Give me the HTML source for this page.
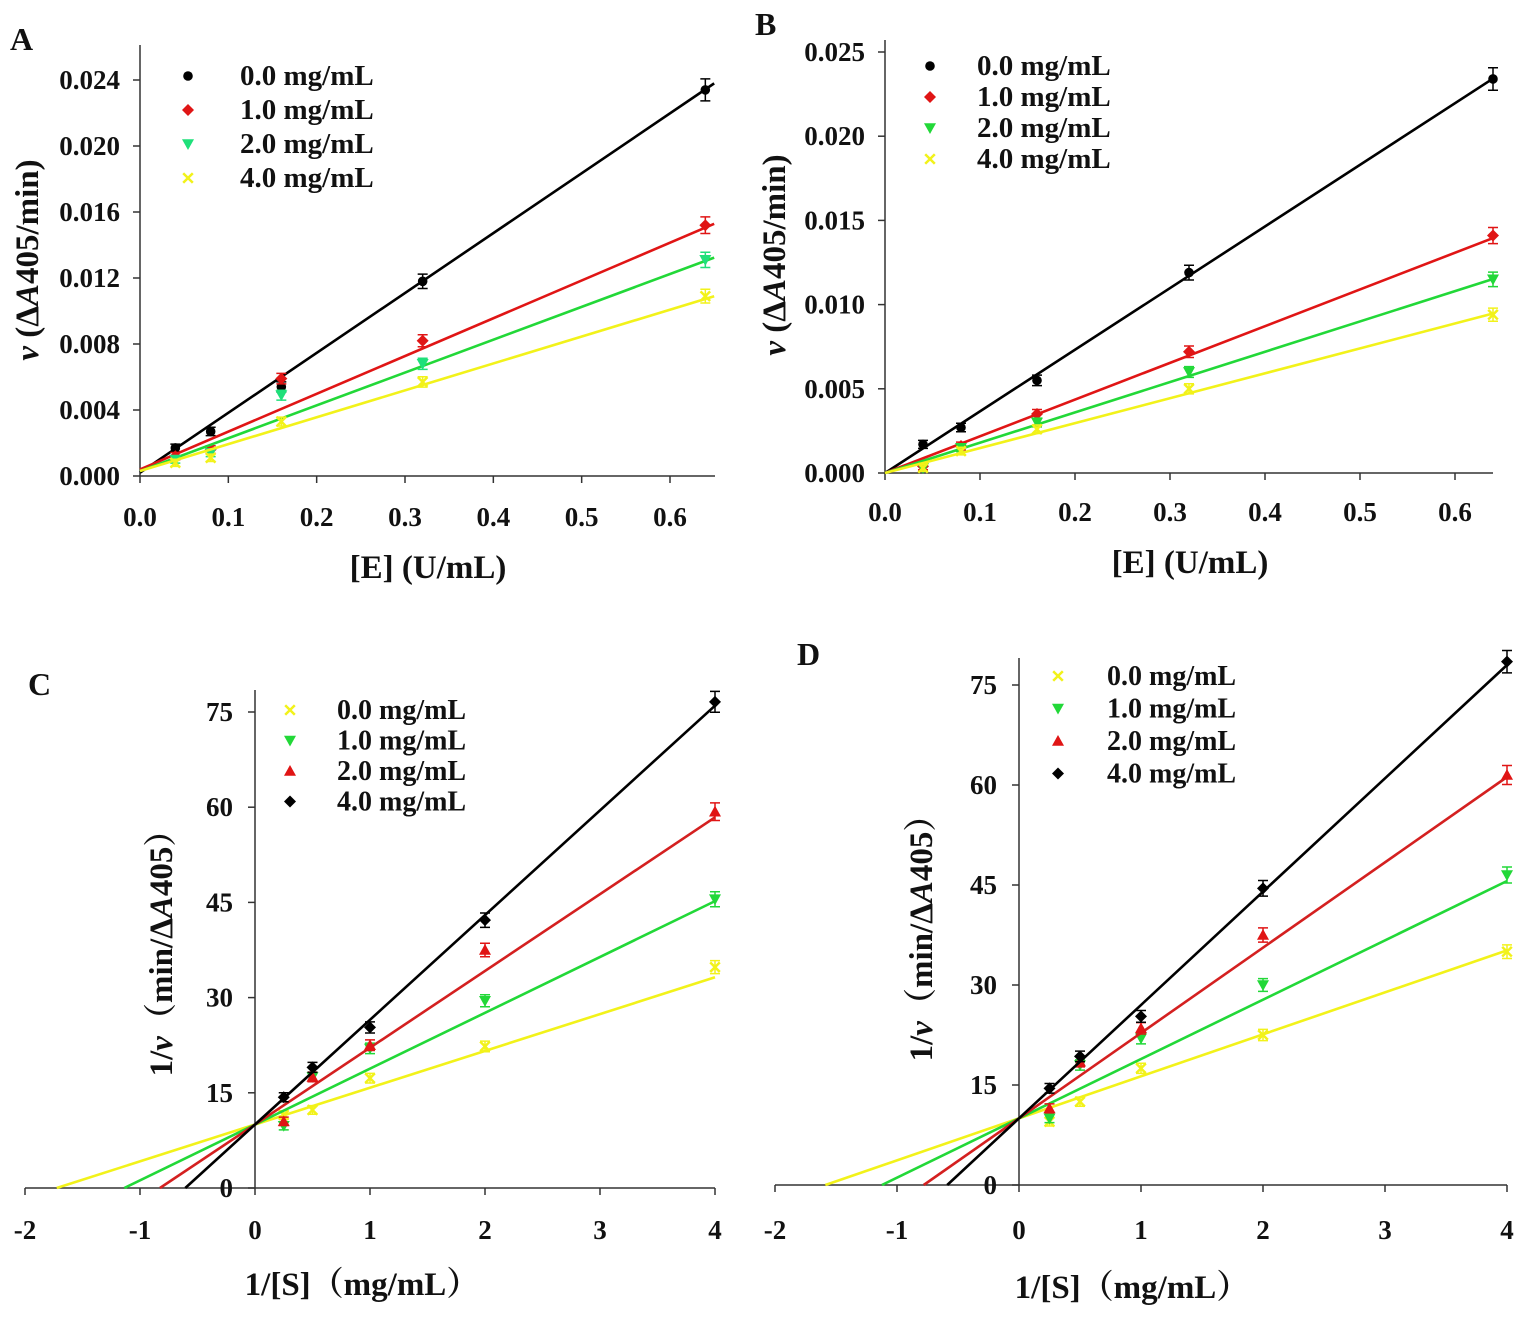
<!DOCTYPE html>
<html><head><meta charset="utf-8">
<style>
body{margin:0;background:#fff;}
svg text{font-family:"Liberation Serif","Noto Serif CJK SC",serif;font-weight:bold;fill:#111;}
</style></head>
<body>
<svg id="fig" width="1535" height="1320" viewBox="0 0 1535 1320" xmlns="http://www.w3.org/2000/svg"></svg>
<script>
// ---------- data ----------
const xA = [0.04,0.08,0.16,0.32,0.64];
const A_black = [0.0017,0.0027,0.0054,0.0118,0.0234];
const A_red = [0.0012,0.0016,0.0059,0.0082,0.0152];
const A_green = [0.0010,0.0014,0.0049,0.0068,0.0131];
const A_yellow = [0.0008,0.0011,0.0033,0.0057,0.0109];
const A_slopes = [0.0363,0.0229,0.0199,0.0163];
const A_inter = [0.0002,0.0004,0.0003,0.0003];
const xB = [0.04,0.08,0.16,0.32,0.64];
const B_black = [0.0017,0.0027,0.0055,0.0119,0.0234];
const B_red = [0.0004,0.0016,0.0035,0.0072,0.0141];
const B_green = [0.0003,0.0015,0.0030,0.0060,0.0115];
const B_yellow = [0.0003,0.0013,0.0026,0.0050,0.0094];
const B_slopes = [0.0366,0.0218,0.0180,0.0148];
const B_inter = [0,0,0,0];
const xC = [0.25,0.5,1,2,4];
const C_yellow = [11.5,12.3,17.3,22.3,34.8];
const C_green = [9.8,17.5,22,29.5,45.5];
const C_red = [10.5,17.5,22.5,37.5,59.3];
const C_black = [14.3,19,25.3,42.2,76.6];
const C_slopes = [5.8,8.8,12.1,16.5];
const C_inter = [10,10,10,10];
const D_yellow = [9.5,12.5,17.5,22.5,35];
const D_green = [10,18,22,30,46.5];
const D_red = [11.5,18.5,23.5,37.5,61.5];
const D_black = [14.5,19.3,25.3,44.5,78.5];
const D_slopes = [6.3,8.9,12.8,17];
const D_inter = [10,10,10,10];
const legendLabels = ["0.0 mg/mL","1.0 mg/mL","2.0 mg/mL","4.0 mg/mL"];
const A_xticks = [0,0.1,0.2,0.3,0.4,0.5,0.6];
const A_yticks = [0,0.004,0.008,0.012,0.016,0.020,0.024];
const B_xticks = [0,0.1,0.2,0.3,0.4,0.5,0.6];
const B_yticks = [0,0.005,0.010,0.015,0.020,0.025];
const CD_xticks = [-2,-1,0,1,2,3,4];
const CD_yticks = [0,15,30,45,60,75];

const NS="http://www.w3.org/2000/svg";
const svg=document.getElementById('fig');
function mk(tag,attrs,parent){const e=document.createElementNS(NS,tag);for(const k in attrs)e.setAttribute(k,attrs[k]);(parent||svg).appendChild(e);return e;}
const COL={black:"#000",red:"#e01515",green:"#22d838",yellow:"#f2f21a"};
const GREENA="#1fe07a";

function marker(g,type,cx,cy,color,s){
  let e;
  if(type==="circle")e=mk('circle',{cx,cy,r:s*0.8,fill:color},g);
  else if(type==="diamond")e=mk('polygon',{points:`${cx},${cy-s} ${cx+s},${cy} ${cx},${cy+s} ${cx-s},${cy}`,fill:color},g);
  else if(type==="tdown")e=mk('polygon',{points:`${cx-s},${cy-s*0.8} ${cx+s},${cy-s*0.8} ${cx},${cy+s}`,fill:color},g);
  else if(type==="tup")e=mk('polygon',{points:`${cx-s},${cy+s*0.8} ${cx+s},${cy+s*0.8} ${cx},${cy-s}`,fill:color},g);
  else {e=mk('path',{d:`M${cx-s*0.8},${cy-s*0.8}L${cx+s*0.8},${cy+s*0.8}M${cx+s*0.8},${cy-s*0.8}L${cx-s*0.8},${cy+s*0.8}`,stroke:color,'stroke-width':2.5},g);}
  return e;
}

function panel(p){
  const g=mk('g',{});
  
  
  const X=v=>p.x0+(v-p.xv0)*(p.x1-p.x0)/(p.xv1-p.xv0);
  const Y=v=>p.y0-(v-p.yv0)*(p.y0-p.y1)/(p.yv1-p.yv0);
  const ax=mk('line',{x1:X(0),y1:p.yTop,x2:X(0),y2:Y(0),stroke:"#333",'stroke-width':1.5},g);
  
  const axx=mk('line',{x1:p.xL,y1:Y(0),x2:p.xR,y2:Y(0),stroke:"#333",'stroke-width':1.5},g);
  
  p.yticks.forEach(t=>{
    mk('line',{x1:X(0)-7,y1:Y(t),x2:X(0),y2:Y(t),stroke:"#333",'stroke-width':1.5},g);
    const tx=mk('text',{x:X(0)-p.ylabOff,y:Y(t)+9,'text-anchor':'end','font-size':p.fs},g);
    tx.textContent=p.yfmt(t);
    
  });
  p.xticks.forEach(t=>{
    mk('line',{x1:X(t),y1:Y(0),x2:X(t),y2:Y(0)+7,stroke:"#333",'stroke-width':1.5},g);
    const tx=mk('text',{x:X(t),y:p.xlabY,'text-anchor':'middle','font-size':p.fs},g);
    tx.textContent=p.xfmt(t);
    
  });
  p.series.forEach((s,i)=>{
    const sg=mk('g',{},g);
    
    
    const xs=p.lineX0(i), xe=p.lineX1;
    const ln=mk('line',{x1:X(xs),y1:Y(p.inter[i]+p.slopes[i]*xs),x2:X(xe),y2:Y(p.inter[i]+p.slopes[i]*xe),stroke:s.lcolor,'stroke-width':2.6},sg);
    
    p.xs.forEach((xv,j)=>{
      const v=s.data[j], e=p.err(v), cx=X(xv);
      mk('path',{d:`M${cx},${Y(v-e)}L${cx},${Y(v+e)}M${cx-5},${Y(v+e)}L${cx+5},${Y(v+e)}M${cx-5},${Y(v-e)}L${cx+5},${Y(v-e)}`,stroke:s.color,'stroke-width':1.5,fill:'none'},sg);
      const m=marker(sg,s.marker,cx,Y(v),s.color,6);
      
    });
  });
  const lg=mk('g',{},g);
  
  p.series.forEach((s,i)=>{
    const y=p.legY+i*p.legDy;
    marker(lg,s.marker,p.legMX,y-9,s.legcolor||s.color,6);
    const t=mk('text',{x:p.legTX,y:y,'font-size':p.lfs},lg);
    t.textContent=s.label;
    
  });
  const L=mk('text',{x:p.letter[0],y:p.letter[1],'font-size':32},g);L.textContent=p.letterT;
  
  const xt=mk('text',{x:p.xt[0],y:p.xt[1],'text-anchor':'middle','font-size':33},g);
  xt.innerHTML=p.xtitle;
  const yt=mk('text',{x:0,y:0,'text-anchor':'middle','font-size':33,transform:`translate(${p.yt[0]},${p.yt[1]}) rotate(-90)`},g);
  yt.innerHTML=p.ytitle;
}
const f3=t=>t.toFixed(3), f1=t=>t.toFixed(1), f0=t=>String(t);
const vTitle='<tspan font-style="italic">v</tspan> (Δ<tspan font-style="italic">A</tspan>405/min)';
panel({name:'panel-a',x0:140,x1:670,xv0:0,xv1:0.6,y0:476,y1:80,yv0:0,yv1:0.024,yTop:45,xL:140,xR:715,
  yticks:A_yticks,xticks:A_xticks,yfmt:f3,xfmt:f1,ylabOff:20,xlabY:526,fs:27,lfs:29,xs:xA,
  slopes:A_slopes,inter:A_inter,lineX0:()=>0,lineX1:0.65,err:v=>0.0002+v*0.02,
  series:[{key:'black',label:legendLabels[0],data:A_black,color:COL.black,lcolor:COL.black,marker:'circle'},
  {key:'red',label:legendLabels[1],data:A_red,color:COL.red,lcolor:COL.red,marker:'diamond'},
  {key:'green',label:legendLabels[2],data:A_green,color:GREENA,lcolor:COL.green,marker:'tdown'},
  {key:'yellow',label:legendLabels[3],data:A_yellow,color:COL.yellow,lcolor:COL.yellow,marker:'cross'}],
  legY:85,legDy:34,legMX:188,legTX:240,letter:[10,50],letterT:'A',xt:[428,578],xtitle:'[E] (U/mL)',yt:[38,260],ytitle:vTitle});
panel({name:'panel-b',x0:885,x1:1455,xv0:0,xv1:0.6,y0:473,y1:52,yv0:0,yv1:0.025,yTop:40,xL:885,xR:1493,
  yticks:B_yticks,xticks:B_xticks,yfmt:f3,xfmt:f1,ylabOff:20,xlabY:521,fs:27,lfs:29,xs:xB,
  slopes:B_slopes,inter:B_inter,lineX0:()=>0,lineX1:0.64,err:v=>0.0002+v*0.02,
  series:[{key:'black',label:legendLabels[0],data:B_black,color:COL.black,lcolor:COL.black,marker:'circle'},
  {key:'red',label:legendLabels[1],data:B_red,color:COL.red,lcolor:COL.red,marker:'diamond'},
  {key:'green',label:legendLabels[2],data:B_green,color:COL.green,lcolor:COL.green,marker:'tdown'},
  {key:'yellow',label:legendLabels[3],data:B_yellow,color:COL.yellow,lcolor:COL.yellow,marker:'cross'}],
  legY:75,legDy:31,legMX:930,legTX:977,letter:[755,35],letterT:'B',xt:[1190,573],xtitle:'[E] (U/mL)',yt:[785,255],ytitle:vTitle});
const sTitle='1/[S]（mg/mL）';
const ivTitle='1/<tspan font-style="italic">v</tspan>（min/Δ<tspan font-style="italic">A</tspan>405）';
panel({name:'panel-c',x0:25,x1:715,xv0:-2,xv1:4,y0:1188,y1:712,yv0:0,yv1:75,yTop:690,xL:25,xR:715,
  yticks:CD_yticks,xticks:CD_xticks,yfmt:f0,xfmt:f0,ylabOff:22,xlabY:1239,fs:27,lfs:28,xs:xC,
  slopes:C_slopes,inter:C_inter,lineX0:i=>-C_inter[i]/C_slopes[i],lineX1:4,err:v=>0.5+v*0.015,
  series:[{key:'yellow',label:legendLabels[0],data:C_yellow,color:COL.yellow,lcolor:COL.yellow,marker:'cross'},
  {key:'green',label:legendLabels[1],data:C_green,color:COL.green,lcolor:COL.green,marker:'tdown'},
  {key:'red',label:legendLabels[2],data:C_red,color:COL.red,lcolor:"#d42020",marker:'tup'},
  {key:'black',label:legendLabels[3],data:C_black,color:COL.black,lcolor:COL.black,marker:'diamond'}],
  legY:719,legDy:30.5,legMX:290,legTX:337,letter:[28,695],letterT:'C',xt:[362,1295],xtitle:sTitle,yt:[172,945],ytitle:ivTitle});
panel({name:'panel-d',x0:775,x1:1507,xv0:-2,xv1:4,y0:1185,y1:685,yv0:0,yv1:75,yTop:658,xL:775,xR:1507,
  yticks:CD_yticks,xticks:CD_xticks,yfmt:f0,xfmt:f0,ylabOff:22,xlabY:1239,fs:27,lfs:28,xs:xC,
  slopes:D_slopes,inter:D_inter,lineX0:i=>-D_inter[i]/D_slopes[i],lineX1:4,err:v=>0.5+v*0.015,
  series:[{key:'yellow',label:legendLabels[0],data:D_yellow,color:COL.yellow,lcolor:COL.yellow,marker:'cross'},
  {key:'green',label:legendLabels[1],data:D_green,color:COL.green,lcolor:COL.green,marker:'tdown'},
  {key:'red',label:legendLabels[2],data:D_red,color:COL.red,lcolor:"#d42020",marker:'tup'},
  {key:'black',label:legendLabels[3],data:D_black,color:COL.black,lcolor:COL.black,marker:'diamond'}],
  legY:685,legDy:32.5,legMX:1058,legTX:1107,letter:[797,665],letterT:'D',xt:[1132,1298],xtitle:sTitle,yt:[932,930],ytitle:ivTitle});
</script>
</body></html>
